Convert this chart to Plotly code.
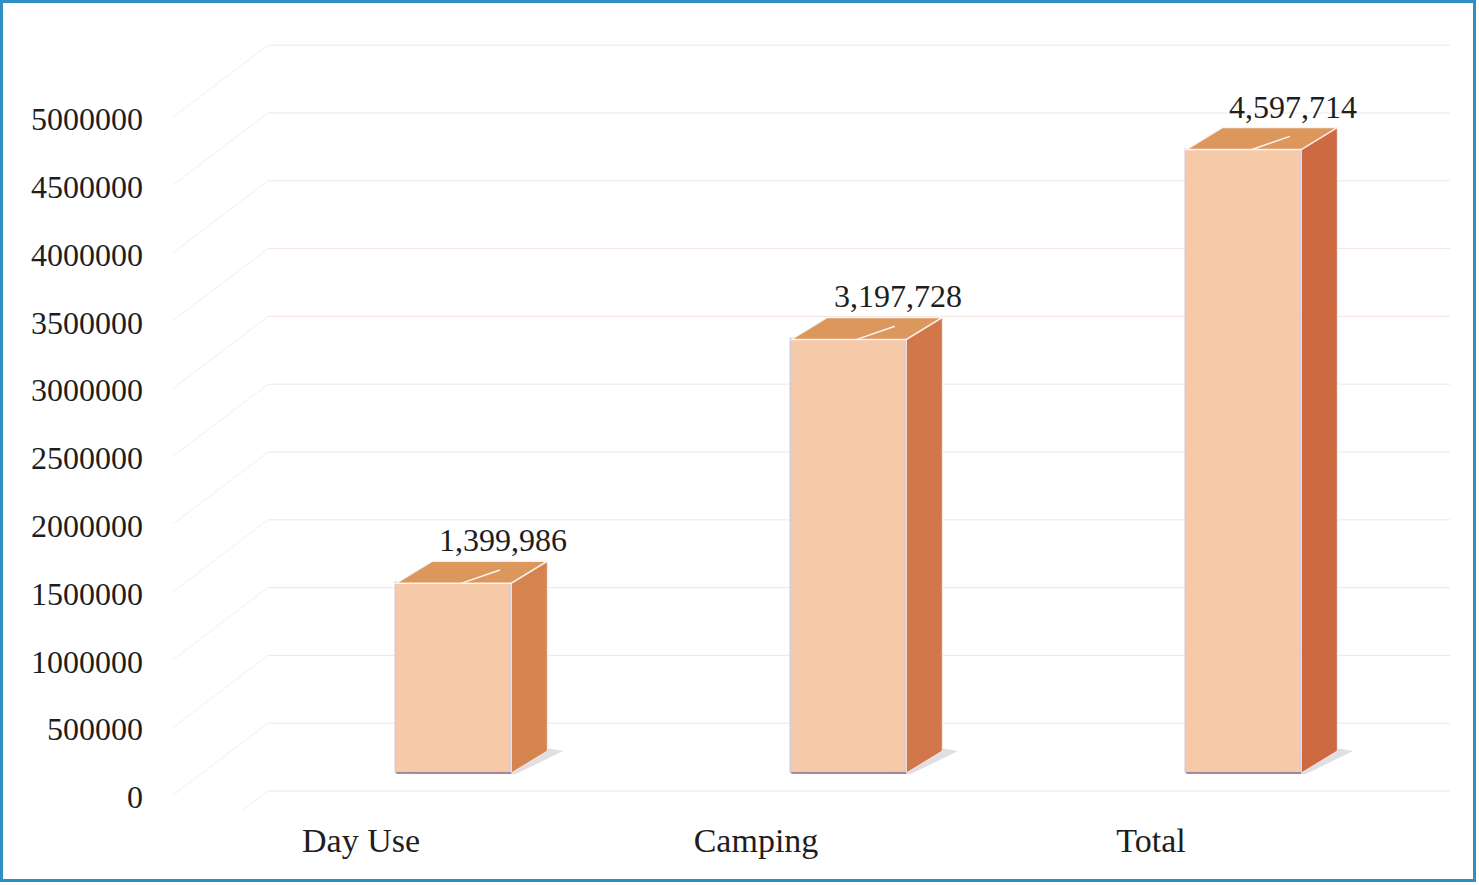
import plotly.graph_objects as go

# ---- data ----
categories = ["Day Use", "Camping", "Total"]
values = [1399986, 3197728, 4597714]
y_ticks = [0, 500000, 1000000, 1500000, 2000000, 2500000, 3000000, 3500000, 4000000, 4500000, 5000000]
grid_levels = [0, 500000, 1000000, 1500000, 2000000, 2500000, 3000000, 3500000, 4000000, 4500000, 5000000, 5500000]

# ---- geometry / style (pixel mapping of plot area) ----
W, H = 1479, 885
L, R, T, B = 150, 1450, 40, 810          # plot area in pixels
PX_PER_UNIT = 395.0                      # px per category step
PX_PER_VAL = 135.6 / 1e6                 # px per value unit
ZERO_PX = 797
XMIN = -(361 - L) / PX_PER_UNIT
XMAX = XMIN + (R - L) / PX_PER_UNIT
YMIN = -(B - ZERO_PX) / PX_PER_VAL
YMAX = (ZERO_PX - T) / PX_PER_VAL

BASE = 24 / PX_PER_VAL                   # front-face floor offset (perspective)
SHIFT = 0.235                            # bar shift relative to category label
BW = 115 / PX_PER_UNIT                   # front face width
DX = 36 / PX_PER_UNIT                    # depth x
DY = 22 / PX_PER_VAL                     # depth y
GRID_SHIFT = 6 / PX_PER_VAL
WALL_X = XMIN + (268 - L) / PX_PER_UNIT

FRONT = "#f6caa9"
TOP = "#dc975d"
SIDE = ["#d5834f", "#d2774a", "#cd6a44"]
FONT = "Liberation Serif"

fig = go.Figure()

shapes = []
# back-wall gridlines and side-wall diagonals
for g in grid_levels:
    yv = g + GRID_SHIFT
    shapes.append(dict(type="line", xref="x", yref="y", x0=WALL_X, x1=XMAX, y0=yv, y1=yv,
                       line=dict(color="rgba(225,190,180,0.4)", width=1), layer="below"))
    shapes.append(dict(type="line", xref="x", yref="y", x0=WALL_X, y0=yv,
                       x1=WALL_X - 95 / PX_PER_UNIT, y1=yv - 72 / PX_PER_VAL,
                       line=dict(color="rgba(225,190,180,0.3)", width=1), layer="below"))

for i, v in enumerate(values):
    xl = i + SHIFT - BW / 2
    xr = i + SHIFT + BW / 2
    top = BASE + v
    # shadow
    shapes.append(dict(type="path", xref="x", yref="y",
                       path=f"M{xl - 0.03},{BASE - 0.01e6} L{xr + 0.01},{BASE - 0.01e6} "
                            f"L{xr + DX + 0.04},{BASE + DY} L{xr + DX},{BASE + DY + 0.02e6} "
                            f"L{xr},{BASE} Z",
                       fillcolor="rgba(200,195,205,0.55)", line=dict(width=0), layer="below"))
    # side face
    shapes.append(dict(type="path", xref="x", yref="y",
                       path=f"M{xr},{BASE} L{xr},{top} L{xr + DX},{top + DY} L{xr + DX},{BASE + DY} Z",
                       fillcolor=SIDE[i], line=dict(color="rgba(245,240,240,0.9)", width=1), layer="above"))
    # top face
    shapes.append(dict(type="path", xref="x", yref="y",
                       path=f"M{xl},{top} L{xr},{top} L{xr + DX},{top + DY} L{xl + DX},{top + DY} Z",
                       fillcolor=TOP, line=dict(color="rgba(250,245,245,0.95)", width=1.5), layer="above"))
    # highlight streak on top face
    hx = xl + 0.57 * BW
    shapes.append(dict(type="line", xref="x", yref="y",
                       x0=hx, y0=top, x1=hx + 0.33 * BW, y1=top + 0.6 * DY,
                       line=dict(color="rgba(255,250,245,0.95)", width=1.5), layer="above"))
    # bottom dark edge
    shapes.append(dict(type="line", xref="x", yref="y", x0=xl, x1=xr, y0=BASE, y1=BASE,
                       line=dict(color="#8a7080", width=1.5), layer="above"))

fig.add_trace(go.Bar(
    x=[i + SHIFT for i in range(len(values))],
    y=values,
    base=BASE,
    width=BW,
    marker=dict(color=FRONT, line=dict(color="rgba(205,200,220,0.9)", width=1.5)),
    hoverinfo="skip",
    showlegend=False,
))

annotations = []
for i, v in enumerate(values):
    annotations.append(dict(x=i + SHIFT + 0.125, y=BASE + v + DY, xref="x", yref="y",
                            text=f"{v:,}", showarrow=False, yanchor="bottom", yshift=1,
                            font=dict(family=FONT, size=32, color="#1e1e1e")))

# blue frame
shapes.append(dict(type="rect", xref="paper", yref="paper",
                   x0=(1.5 - L) / (R - L), x1=(W - 4.5 - L) / (R - L),
                   y0=(B - (H - 4.5)) / (B - T), y1=(B - 1.5) / (B - T),
                   line=dict(color="#2f8fc0", width=3), fillcolor="rgba(0,0,0,0)", layer="above"))

fig.update_layout(
    width=W, height=H,
    margin=dict(l=L, r=W - R, t=T, b=H - B, pad=0),
    paper_bgcolor="white", plot_bgcolor="white",
    shapes=shapes, annotations=annotations,
    xaxis=dict(range=[XMIN, XMAX], tickvals=list(range(len(categories))), ticktext=categories,
               showgrid=False, zeroline=False, showline=False, ticks="",
               tickfont=dict(family=FONT, size=34, color="#1e1e1e"), ticklabelstandoff=7),
    yaxis=dict(range=[YMIN, YMAX], tickvals=y_ticks, ticktext=[str(t) for t in y_ticks],
               showgrid=False, zeroline=False, showline=False, ticks="",
               tickfont=dict(family=FONT, size=32, color="#1e1e1e"), ticklabelstandoff=6),
    bargap=0,
)

fig.write_html("out.html", config={"displayModeBar": False},
               post_script="document.body.style.margin='0';")
